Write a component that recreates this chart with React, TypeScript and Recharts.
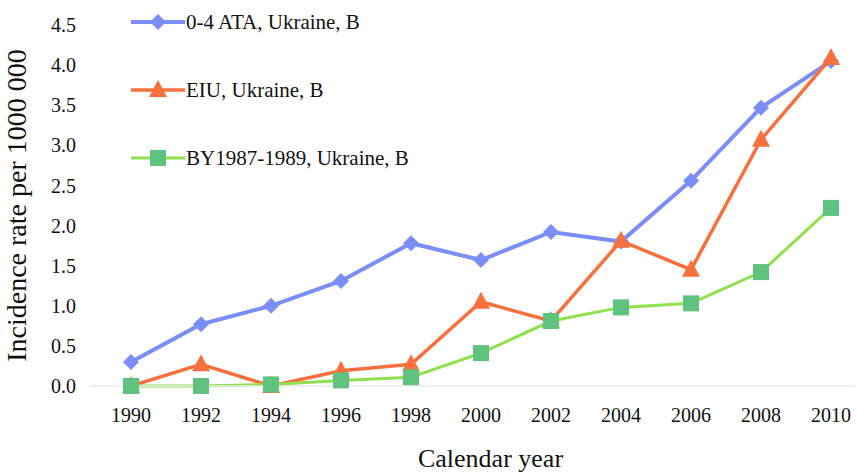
import React from 'react';
import { LineChart, Line, XAxis, YAxis, ReferenceLine } from 'recharts';

const years = [1990, 1992, 1994, 1996, 1998, 2000, 2002, 2004, 2006, 2008, 2010];
const ataValues = [0.3, 0.77, 1.0, 1.31, 1.78, 1.57, 1.92, 1.8, 2.56, 3.47, 4.05];
const eiuValues = [0.0, 0.27, 0.0, 0.19, 0.27, 1.05, 0.81, 1.81, 1.45, 3.07, 4.09];
const byValues = [0.0, 0.0, 0.02, 0.07, 0.11, 0.41, 0.81, 0.98, 1.03, 1.42, 2.22];
const yTicks = [0, 0.5, 1, 1.5, 2, 2.5, 3, 3.5, 4, 4.5];

const SERIES = [
    { key: 'ata', name: '0-4 ATA, Ukraine, B', line: '#7b8df7', fill: '#7b8df7', shape: 'diamond', width: 4 },
    { key: 'eiu', name: 'EIU, Ukraine, B', line: '#f7703d', fill: '#f7703d', shape: 'triangle', width: 3.5 },
    { key: 'by', name: 'BY1987-1989, Ukraine, B', line: '#8ee04c', fill: '#5fc27f', shape: 'square', width: 3 },
];

const data = years.map((year, i) => ({
    year,
    ata: ataValues[i],
    eiu: eiuValues[i],
    by: byValues[i],
}));

const FONT = 'Liberation Serif, DejaVu Serif, serif';

// marker drawing, shared by the lines and the legend
const marker = (shape: string, cx: number, cy: number, fill: string) => {
    if (shape === 'diamond') {
        return <polygon points={`${cx},${cy - 8} ${cx + 8},${cy} ${cx},${cy + 8} ${cx - 8},${cy}`} fill={fill} />;
    }
    if (shape === 'triangle') {
        return <polygon points={`${cx},${cy - 10} ${cx + 9},${cy + 7} ${cx - 9},${cy + 7}`} fill={fill} />;
    }
    return <rect x={cx - 8} y={cy - 8} width={16} height={16} fill={fill} />;
};

const makeDot = (shape: string, fill: string) => (props: any) => {
    const { cx, cy, index } = props;
    if (cx == null || cy == null) return <g key={index} />;
    return <g key={index}>{marker(shape, cx, cy, fill)}</g>;
};

// legend drawn on top of the plot, the way the original has it
const LegendBox = () => (
    <div style={{ position: 'absolute', left: 131, top: 8, fontFamily: FONT, fontSize: 21, color: '#111' }}>
        {SERIES.map((s) => (
            <div key={s.key} style={{ display: 'flex', alignItems: 'center', height: 28, marginBottom: 40 }}>
                <svg width={54} height={24}>
                    <line x1={0} y1={12} x2={54} y2={12} stroke={s.line} strokeWidth={s.width} />
                    {marker(s.shape, 27, 12, s.fill)}
                </svg>
                <span style={{ marginLeft: 1 }}>{s.name}</span>
            </div>
        ))}
    </div>
);

export default function App() {
    return (
        <div style={{ position: 'absolute', left: 0, top: 0, width: 857, height: 474, background: '#fff', fontFamily: FONT }}>
            <LineChart width={857} height={474} data={data} margin={{ top: 25, right: 2, bottom: 0, left: 0 }} style={{ fontFamily: FONT }}>
                <XAxis
                    dataKey="year"
                    type="number"
                    domain={[1990, 2010]}
                    ticks={years}
                    interval={0}
                    padding={{ left: 41, right: 24 }}
                    height={88}
                    tickLine={false}
                    axisLine={{ stroke: '#ececec', strokeWidth: 1.5 }}
                    tickMargin={16}
                    tick={{ fontSize: 20, fill: '#111', fontFamily: FONT }}
                    label={{ value: 'Calendar year', position: 'insideBottom', offset: 7, dx: 18, fontSize: 26, fill: '#111', fontFamily: FONT }}
                />
                <YAxis
                    domain={[0, 4.5]}
                    ticks={yTicks}
                    interval={0}
                    width={90}
                    tickLine={false}
                    axisLine={false}
                    tickMargin={8}
                    tickFormatter={(v: number) => v.toFixed(1)}
                    tick={{ fontSize: 20, fill: '#111', fontFamily: FONT }}
                    label={{ value: 'Incidence rate per 1000 000', angle: -90, position: 'insideLeft', offset: 16, textAnchor: 'middle', fontSize: 28, fill: '#111', fontFamily: FONT }}
                />
                <ReferenceLine y={0} stroke="#ececec" strokeWidth={1.5} />
                {SERIES.map((s) => (
                    <Line
                        key={s.key}
                        dataKey={s.key}
                        name={s.name}
                        stroke={s.line}
                        strokeWidth={s.width}
                        dot={makeDot(s.shape, s.fill)}
                        activeDot={false}
                        isAnimationActive={false}
                    />
                ))}
            </LineChart>
            <LegendBox />
        </div>
    );
}
